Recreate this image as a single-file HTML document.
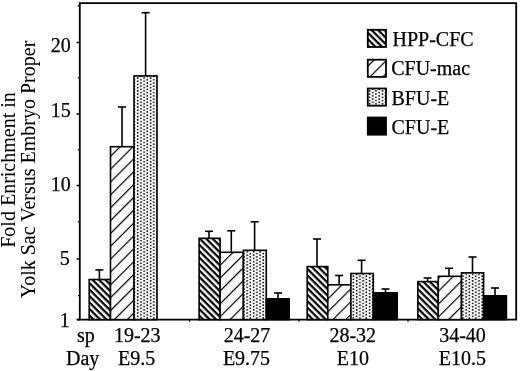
<!DOCTYPE html>
<html><head><meta charset="utf-8"><style>
html,body{margin:0;padding:0;background:#fff;}
svg{display:block;}
text{font-family:"Liberation Serif","Times New Roman",serif;font-size:20px;fill:#000;stroke:#000;stroke-width:0.25px;}
text.t{stroke-width:0.05px;}
</style></head><body>
<svg width="520" height="371" viewBox="0 0 520 371">
<defs>
<pattern id="ph" patternUnits="userSpaceOnUse" width="4.56" height="20" patternTransform="rotate(-45)">
<rect x="0" y="0" width="4.56" height="20" fill="#000"/>
<rect x="0.98" y="0" width="2.3" height="20" fill="#fff"/>
</pattern>
<pattern id="pm" patternUnits="userSpaceOnUse" width="9.09" height="20" patternTransform="rotate(45)">
<rect x="0" y="0" width="9.09" height="20" fill="#fff"/>
<rect x="6.26" y="0" width="1.25" height="20" fill="#000"/>
</pattern>
<pattern id="pb" patternUnits="userSpaceOnUse" width="6.44" height="3.22" x="136.1" y="0">
<rect x="0" y="0" width="6.44" height="3.22" fill="#fff"/>
<circle cx="1.61" cy="0.8" r="0.9" fill="#000"/>
<circle cx="4.83" cy="2.41" r="0.9" fill="#000"/>
</pattern>
</defs>
<rect x="0" y="0" width="520" height="371" fill="#fff"/>
<!-- frame -->
<path d="M77.6 5.8 H79 M77.8 77.9 H79 M77.8 149.8 H79 M77.8 221.8 H79 M78.2 295.6 H79" stroke="#000" stroke-width="1.3"/>
<path d="M189.5 320 V321.8 M299 320 V321.8 M408 320 V321.8" stroke="#000" stroke-width="1.2"/>
<path d="M79.8 2.2 V320.4 M78.8 3.2 H516.6 M516.2 2.4 V320.4 M77 319.6 H517" stroke="#000" stroke-width="1.8" fill="none"/>
<line x1="76.5" y1="42.5" x2="80" y2="42.5" stroke="#000" stroke-width="1.5"/>
<text x="50.8" y="52">20</text>
<line x1="76.5" y1="114" x2="80" y2="114" stroke="#000" stroke-width="1.5"/>
<text x="50.8" y="117">15</text>
<line x1="76.5" y1="185.5" x2="80" y2="185.5" stroke="#000" stroke-width="1.5"/>
<text x="50.8" y="191">10</text>
<line x1="76.5" y1="259" x2="80" y2="259" stroke="#000" stroke-width="1.5"/>
<text x="59.7" y="264.5">5</text>
<line x1="76.5" y1="319.6" x2="80" y2="319.6" stroke="#000" stroke-width="1.5"/>
<text x="59.7" y="326.5">1</text>
<line x1="99.4" y1="279.5" x2="99.4" y2="269.9" stroke="#000" stroke-width="1.6"/>
<line x1="95.4" y1="269.9" x2="103.4" y2="269.9" stroke="#000" stroke-width="1.6"/>
<line x1="122.0" y1="146.7" x2="122.0" y2="107.0" stroke="#000" stroke-width="1.6"/>
<line x1="118.0" y1="107.0" x2="126.0" y2="107.0" stroke="#000" stroke-width="1.6"/>
<line x1="145.6" y1="75.9" x2="145.6" y2="12.7" stroke="#000" stroke-width="1.6"/>
<line x1="141.6" y1="12.7" x2="149.6" y2="12.7" stroke="#000" stroke-width="1.6"/>
<line x1="209.0" y1="238.3" x2="209.0" y2="231.3" stroke="#000" stroke-width="1.6"/>
<line x1="205.0" y1="231.3" x2="213.0" y2="231.3" stroke="#000" stroke-width="1.6"/>
<line x1="231.3" y1="252.3" x2="231.3" y2="230.8" stroke="#000" stroke-width="1.6"/>
<line x1="227.3" y1="230.8" x2="235.3" y2="230.8" stroke="#000" stroke-width="1.6"/>
<line x1="254.6" y1="250.3" x2="254.6" y2="221.8" stroke="#000" stroke-width="1.6"/>
<line x1="250.6" y1="221.8" x2="258.6" y2="221.8" stroke="#000" stroke-width="1.6"/>
<line x1="278.0" y1="298.8" x2="278.0" y2="293.0" stroke="#000" stroke-width="1.6"/>
<line x1="274.0" y1="293.0" x2="282.0" y2="293.0" stroke="#000" stroke-width="1.6"/>
<line x1="317.0" y1="266.6" x2="317.0" y2="239.0" stroke="#000" stroke-width="1.6"/>
<line x1="313.0" y1="239.0" x2="321.0" y2="239.0" stroke="#000" stroke-width="1.6"/>
<line x1="339.1" y1="284.8" x2="339.1" y2="275.5" stroke="#000" stroke-width="1.6"/>
<line x1="335.1" y1="275.5" x2="343.1" y2="275.5" stroke="#000" stroke-width="1.6"/>
<line x1="361.6" y1="273.5" x2="361.6" y2="260.3" stroke="#000" stroke-width="1.6"/>
<line x1="357.6" y1="260.3" x2="365.6" y2="260.3" stroke="#000" stroke-width="1.6"/>
<line x1="385.5" y1="292.8" x2="385.5" y2="289.0" stroke="#000" stroke-width="1.6"/>
<line x1="381.5" y1="289.0" x2="389.5" y2="289.0" stroke="#000" stroke-width="1.6"/>
<line x1="427.6" y1="281.6" x2="427.6" y2="278.0" stroke="#000" stroke-width="1.6"/>
<line x1="423.6" y1="278.0" x2="431.6" y2="278.0" stroke="#000" stroke-width="1.6"/>
<line x1="449.0" y1="276.3" x2="449.0" y2="268.3" stroke="#000" stroke-width="1.6"/>
<line x1="445.0" y1="268.3" x2="453.0" y2="268.3" stroke="#000" stroke-width="1.6"/>
<line x1="472.5" y1="272.8" x2="472.5" y2="257.0" stroke="#000" stroke-width="1.6"/>
<line x1="468.5" y1="257.0" x2="476.5" y2="257.0" stroke="#000" stroke-width="1.6"/>
<line x1="495.0" y1="295.8" x2="495.0" y2="288.0" stroke="#000" stroke-width="1.6"/>
<line x1="491.0" y1="288.0" x2="499.0" y2="288.0" stroke="#000" stroke-width="1.6"/>
<rect x="89.2" y="279.5" width="21.30" height="40.10" fill="url(#ph)" stroke="#000" stroke-width="1.6"/>
<rect x="110.5" y="146.7" width="23.50" height="172.90" fill="url(#pm)" stroke="#000" stroke-width="1.6"/>
<rect x="134.0" y="75.9" width="23.00" height="243.70" fill="url(#pb)" stroke="#000" stroke-width="1.6"/>
<rect x="199.1" y="238.3" width="21.00" height="81.30" fill="url(#ph)" stroke="#000" stroke-width="1.6"/>
<rect x="220.1" y="252.3" width="23.30" height="67.30" fill="url(#pm)" stroke="#000" stroke-width="1.6"/>
<rect x="243.4" y="250.3" width="22.90" height="69.30" fill="url(#pb)" stroke="#000" stroke-width="1.6"/>
<rect x="266.3" y="298.8" width="22.90" height="20.80" fill="#000" stroke="#000" stroke-width="1.6"/>
<rect x="307.2" y="266.6" width="20.60" height="53.00" fill="url(#ph)" stroke="#000" stroke-width="1.6"/>
<rect x="327.8" y="284.8" width="23.10" height="34.80" fill="url(#pm)" stroke="#000" stroke-width="1.6"/>
<rect x="350.9" y="273.5" width="22.40" height="46.10" fill="url(#pb)" stroke="#000" stroke-width="1.6"/>
<rect x="373.3" y="292.8" width="23.90" height="26.80" fill="#000" stroke="#000" stroke-width="1.6"/>
<rect x="417.8" y="281.6" width="20.50" height="38.00" fill="url(#ph)" stroke="#000" stroke-width="1.6"/>
<rect x="438.3" y="276.3" width="23.20" height="43.30" fill="url(#pm)" stroke="#000" stroke-width="1.6"/>
<rect x="461.5" y="272.8" width="22.10" height="46.80" fill="url(#pb)" stroke="#000" stroke-width="1.6"/>
<rect x="483.6" y="295.8" width="22.80" height="23.80" fill="#000" stroke="#000" stroke-width="1.6"/>
<!-- legend -->
<rect x="367.8" y="29.8" width="18.2" height="17.2" fill="url(#ph)" stroke="#000" stroke-width="1.8"/>
<rect x="367.8" y="59.7" width="18.2" height="17.2" fill="url(#pm)" stroke="#000" stroke-width="1.8"/>
<rect x="367.8" y="88.5" width="18.2" height="17.2" fill="url(#pb)" stroke="#000" stroke-width="1.8"/>
<rect x="367.8" y="117.5" width="18.2" height="17.2" fill="#000" stroke="#000" stroke-width="1.8"/>
<text x="392.5" y="45.6">HPP-CFC</text>
<text x="391.2" y="75">CFU-mac</text>
<text x="391.5" y="104.6">BFU-E</text>
<text x="391.5" y="133.6">CFU-E</text>
<!-- x labels -->
<text x="77" y="341.6">sp</text>
<text x="66" y="365">Day</text>
<text x="137.3" y="341.6" text-anchor="middle">19-23</text>
<text x="136.7" y="364.6" text-anchor="middle">E9.5</text>
<text x="247" y="341.6" text-anchor="middle">24-27</text>
<text x="246.5" y="364.6" text-anchor="middle">E9.75</text>
<text x="352.8" y="341.6" text-anchor="middle">28-32</text>
<text x="352.8" y="364.6" text-anchor="middle">E10</text>
<text x="462.5" y="341.6" text-anchor="middle">34-40</text>
<text x="462.3" y="364.6" text-anchor="middle">E10.5</text>
<!-- y title -->
<text class="t" transform="translate(15,170) rotate(-90)" text-anchor="middle">Fold Enrichment in</text>
<text class="t" transform="translate(35,169.5) rotate(-90)" text-anchor="middle">Yolk Sac Versus Embryo Proper</text>
</svg>
</body></html>
